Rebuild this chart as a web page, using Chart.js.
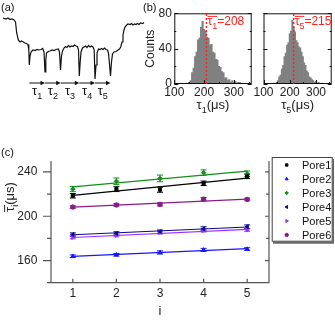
<!DOCTYPE html>
<html>
<head>
<meta charset="utf-8">
<script src="https://cdn.jsdelivr.net/npm/chart.js@4/dist/chart.umd.min.js"></script>
<style>
body { margin:0; background:#fff; width:335px; height:320px; position:relative; overflow:hidden; font-family:"Liberation Sans", Arial, sans-serif; }
canvas { position:absolute; }
.tag { position:absolute; font-size:11px; color:#111; }
</style>
</head>
<body>
<canvas id="ca" width="150" height="105" style="left:0;top:0"></canvas>
<canvas id="cb1" width="115" height="115" style="left:140px;top:0"></canvas>
<canvas id="cb2" width="83" height="115" style="left:252px;top:0"></canvas>
<canvas id="cc" width="335" height="180" style="left:0;top:140px"></canvas>
<div class="tag" style="left:1px;top:1px">(a)</div>
<div class="tag" style="left:143px;top:1px">(b)</div>
<div class="tag" style="left:1px;top:146px">(c)</div>
<script>
var FONT = '"Liberation Sans", Arial, sans-serif';
var NARROW = '"Liberation Sans Narrow", "Liberation Sans", Arial, sans-serif';
Chart.defaults.font.family = FONT;
Chart.defaults.color = '#222';
Chart.defaults.animation = false;

// (a) translocation trace, arbitrary units
var traceT = [3,6,8,10,12,14,15.5,16.7,18.3,20,21.5,23.3,25,26.5,28,28.8,29.3,30,31,33,35,37,39,41,42.7,44,45,45.8,46.5,48.3,50,52,54,56,58.3,59.5,60.5,61.5,62.5,64,65.5,67,68.5,70,71.5,73,74.5,76,77.5,78.5,79.3,80.2,81,82.5,84,85.5,87,88.5,90,91.5,93,94.2,95,96,97,98.5,100,101.5,103,104.5,106,107.5,108.5,110.5,111.5,112.5,114,116,118,119.5,120.7,122,123,124,125,126.7,128,130,131.5,133,134.5,136,137.5,139,140.5,142.7,144];
var traceI = [87,86,87,85.5,86,85,83,72,65,63,64,63,62,61.5,60.5,55,40,49,53,55,54.5,55.5,55,55.5,56.5,53,33,45,52,53.5,54,55,54.5,55.5,56,53,35,49,54,57,58.5,57.5,59.5,58,59,58.5,60,59,58.5,55,29,43,53,57,58,59,57.5,59.5,58,59,58,55,26,40,52,56,55.5,56.5,55.5,57,55.5,55,52,29,43,51,53,53.5,55,56,58,63,70,75,78,80,81,80.5,81.5,80,81,80.5,81.5,80.5,82,81.5,82.5];
var eventT = [29.3, 45, 60.7, 79.3, 95, 110.5];
var intervalNames = ['1', '2', '3', '4', '5'];

// (b) dwell time histograms, 5 us bins
var binCenters = [140,145,150,155,160,165,170,175,180,185,190,195,200,205,210,215,220,225,230,235,240,245,250,255,260,265,270,275,280,285,290,295,300,305,310,315,320,325,330];
var countsTau1 = [1,0,2,4,13,18,31,36,50,52,64,71,62,60,53,52,44,45,36,35,28,27,20,19,14,13,7,7,4,5,2,4,2,3,1,2,2,0,1];
var countsTau5 = [1,0,2,4,8,10,17,21,31,35,44,47,57,60,72,64,59,49,47,42,41,36,31,24,21,15,13,8,7,5,4,2,3,1,2,1,0,1,0];
var meanTau = [208, 215];
var histTicksX = [100, 200, 300];
var histTicksY = [0, 40, 80];

// (c) mean dwell time vs interval index
var intervalIdx = [1, 2, 3, 4, 5];
var poreNames = ['Pore1', 'Pore2', 'Pore3', 'Pore4', 'Pore5', 'Pore6'];
var tauPore1 = [218.5, 224.5, 224, 229.8, 236];
var tauPore2 = [163.9, 165.2, 167.3, 169.6, 170.4];
var tauPore3 = [224.5, 231.6, 234.2, 239.4, 238.4];
var tauPore4 = [183.5, 184.5, 186.1, 188.7, 190.6];
var tauPore5 = [180.9, 182.7, 185.3, 187.1, 187.7];
var tauPore6 = [208.3, 210.2, 210.7, 215.4, 215.2];
var errPore1 = [2, 2.2, 2.3, 2, 2];
var errPore2 = [1.2, 1.2, 1.4, 1.4, 1.2];
var errPore3 = [2.3, 3, 3, 2.5, 2.5];
var errPore4 = [1.5, 1.5, 1.5, 1.8, 1.6];
var errPore5 = [1.3, 1.3, 1.3, 1.3, 1.3];
var errPore6 = [1.2, 1.2, 1.4, 1.5, 1.2];
var fitPore1 = [218.8, 234.4];
var fitPore2 = [163.8, 170.8];
var fitPore3 = [226.5, 240.8];
var fitPore4 = [183.3, 190.3];
var fitPore5 = [180.8, 188.2];
var fitPore6 = [208.3, 215.4];
var cTicksX = [1, 2, 3, 4, 5];
var cTicksY = [160, 200, 240];

function drawTau(ctx, x, y, sub, tail, size, color, bar, align) {
    ctx.save();
    ctx.fillStyle = color; ctx.strokeStyle = color;
    ctx.textBaseline = 'alphabetic'; ctx.textAlign = 'left';
    var big = size + 'px ' + FONT, small = Math.round(size * 0.72) + 'px ' + FONT;
    ctx.font = big;
    var wT = ctx.measureText('\u03c4').width, wTail = ctx.measureText(tail).width;
    ctx.font = small;
    var wS = ctx.measureText(sub).width;
    var w = wT + wS + wTail;
    if (align === 'center') x -= w / 2;
    ctx.font = big; ctx.fillText('\u03c4', x, y);
    ctx.font = small; ctx.fillText(sub, x + wT, y + size * 0.3);
    ctx.font = big; ctx.fillText(tail, x + wT + wS, y);
    if (bar) {
        ctx.lineWidth = 1;
        ctx.beginPath(); ctx.moveTo(x, y - size * 0.72); ctx.lineTo(x + wT + wS, y - size * 0.72); ctx.stroke();
    }
    ctx.restore();
    return w;
}

function setTicks(list) {
    return function (scale) { scale.ticks = list.map(function (v) { return { value: v }; }); };
}

// ---------- (a)
var arrows = {
    id: 'arrows',
    afterDraw: function (chart) {
        var ctx = chart.ctx, xs = chart.scales.x, yA = 83;
        ctx.save();
        ctx.strokeStyle = '#111'; ctx.fillStyle = '#111'; ctx.lineWidth = 1;
        for (var i = 0; i < intervalNames.length; i++) {
            var x0 = xs.getPixelForValue(eventT[i]), x1 = xs.getPixelForValue(eventT[i + 1]);
            ctx.beginPath(); ctx.moveTo(x0, yA); ctx.lineTo(x1 - 3, yA); ctx.stroke();
            ctx.beginPath(); ctx.moveTo(x1, yA); ctx.lineTo(x1 - 4.5, yA - 2.2); ctx.lineTo(x1 - 4.5, yA + 2.2); ctx.closePath(); ctx.fill();
            drawTau(ctx, (x0 + x1) / 2, 95, intervalNames[i], '', 13, '#111', false, 'center');
        }
        ctx.restore();
    }
};

new Chart(document.getElementById('ca'), {
    type: 'line',
    data: { datasets: [{
        data: traceT.map(function (t, k) { return { x: t, y: traceI[k] }; }),
        borderColor: '#111', borderWidth: 1.2, pointRadius: 0, tension: 0
    }] },
    options: {
        responsive: false, animation: false,
        layout: { padding: 0 },
        plugins: { legend: { display: false }, tooltip: { enabled: false } },
        scales: {
            x: { type: 'linear', display: false, min: 0, max: 150 },
            y: { display: false, min: 0, max: 105 }
        }
    },
    plugins: [arrows]
});

// ---------- (b)
function makeHist(id, counts, mean, sub, showY, padLeft) {
    var frame = {
        id: 'frame' + sub,
        afterDraw: function (chart) {
            var ctx = chart.ctx, a = chart.chartArea, xs = chart.scales.x, ys = chart.scales.y;
            ctx.save();
            ctx.strokeStyle = '#111'; ctx.lineWidth = 1;
            ctx.strokeRect(a.left + 0.5, a.top + 0.5, a.right - a.left - 1, a.bottom - a.top - 1);
            ctx.beginPath();
            histTicksY.forEach(function (v) {
                var p = Math.round(ys.getPixelForValue(v)) + 0.5;
                ctx.moveTo(a.left, p); ctx.lineTo(a.left + 4, p);
                ctx.moveTo(a.right, p); ctx.lineTo(a.right - 4, p);
                var m = ys.getPixelForValue(v + 20);
                if (v + 20 < 80) { m = Math.round(m) + 0.5; ctx.moveTo(a.left, m); ctx.lineTo(a.left + 2, m); ctx.moveTo(a.right, m); ctx.lineTo(a.right - 2, m); }
            });
            histTicksX.forEach(function (v) {
                var p = Math.round(xs.getPixelForValue(v)) + 0.5;
                ctx.moveTo(p, a.bottom); ctx.lineTo(p, a.bottom - 4);
                var m = Math.round(xs.getPixelForValue(v + 50)) + 0.5;
                ctx.moveTo(m, a.bottom); ctx.lineTo(m, a.bottom - 2);
            });
            ctx.stroke();
            // mean line
            var mx = xs.getPixelForValue(mean);
            ctx.strokeStyle = '#ff2020'; ctx.lineWidth = 1.5; ctx.setLineDash([2, 2]);
            ctx.beginPath(); ctx.moveTo(mx, a.bottom); ctx.lineTo(mx, a.top); ctx.stroke();
            ctx.setLineDash([]);
            drawTau(ctx, mx + 1, 25, sub, '=' + mean, 12, '#ff2020', true, 'left');
            // axis titles
            drawTau(ctx, (a.left + a.right) / 2, 109, sub, '(\u03bcs)', 13, '#222', false, 'center');
            if (showY) {
                ctx.translate(a.left - 24, (a.top + a.bottom) / 2);
                ctx.rotate(-Math.PI / 2);
                ctx.fillStyle = '#222'; ctx.font = '12px ' + FONT;
                ctx.textAlign = 'center'; ctx.textBaseline = 'middle';
                ctx.fillText('Counts', 0, 0);
            }
            ctx.restore();
        }
    };
    return new Chart(document.getElementById(id), {
        type: 'bar',
        data: { datasets: [{
            data: binCenters.map(function (b, k) { return { x: b, y: counts[k] }; }),
            backgroundColor: '#808080', borderWidth: 0,
            barPercentage: 1, categoryPercentage: 1
        }] },
        options: {
            responsive: false, animation: false,
            layout: { padding: { top: 13.3, right: 3.3, left: 0, bottom: 0 } },
            plugins: { legend: { display: false }, tooltip: { enabled: false } },
            scales: {
                x: {
                    type: 'linear', min: 100, max: 360, offset: false,
                    grid: { display: false, drawTicks: false }, border: { display: false },
                    afterBuildTicks: setTicks(histTicksX),
                    afterFit: function (s) { s.height = 31; },
                    ticks: { padding: 1.5, font: { size: 12, family: NARROW }, color: '#222', maxRotation: 0 }
                },
                y: {
                    min: 0, max: 80,
                    grid: { display: false, drawTicks: false }, border: { display: false },
                    afterBuildTicks: setTicks(histTicksY),
                    afterFit: function (s) { s.width = padLeft; },
                    ticks: { display: showY, padding: 2.5, font: { size: 12, family: NARROW }, color: '#222' }
                }
            }
        },
        plugins: [frame]
    });
}
makeHist('cb1', countsTau1, meanTau[0], '1', true, 34.3);
makeHist('cb2', countsTau5, meanTau[1], '5', false, 4.7);

// ---------- (c)
var poreTau = [tauPore1, tauPore2, tauPore3, tauPore4, tauPore5, tauPore6];
var poreErr = [errPore1, errPore2, errPore3, errPore4, errPore5, errPore6];
var poreFit = [fitPore1, fitPore2, fitPore3, fitPore4, fitPore5, fitPore6];
var poreColor = ['#000000', '#1515ff', '#10901a', '#0a0a8a', '#9a30ff', '#8a1a8a'];
var poreStyle = ['rect', 'triangle', 'rectRot', 'triangle', 'triangle', 'circle'];
var poreRot = [0, 0, 0, -90, 90, 0];

var cDatasets = [];
poreNames.forEach(function (name, p) {
    cDatasets.push({
        label: name + ' fit',
        data: [{ x: intervalIdx[0], y: poreFit[p][0] }, { x: intervalIdx[intervalIdx.length - 1], y: poreFit[p][1] }],
        borderColor: poreColor[p], borderWidth: 1.2, pointRadius: 0, showLine: true, order: 2
    });
});
poreNames.forEach(function (name, p) {
    cDatasets.push({
        label: name,
        data: intervalIdx.map(function (i, k) { return { x: i, y: poreTau[p][k] }; }),
        errors: poreErr[p],
        borderColor: poreColor[p], backgroundColor: poreColor[p],
        pointStyle: poreStyle[p], rotation: poreRot[p], pointRadius: 2.2,
        showLine: false, order: 1
    });
});

var errorBars = {
    id: 'errorBars',
    beforeDatasetsDraw: function (chart) {
        var ctx = chart.ctx, ys = chart.scales.y;
        ctx.save(); ctx.lineWidth = 1;
        chart.data.datasets.forEach(function (ds, i) {
            if (!ds.errors) return;
            var meta = chart.getDatasetMeta(i);
            ctx.strokeStyle = ds.borderColor;
            ctx.beginPath();
            meta.data.forEach(function (pt, k) {
                var v = ds.data[k].y, e = ds.errors[k];
                var yt = ys.getPixelForValue(v + e), yb = ys.getPixelForValue(v - e);
                ctx.moveTo(pt.x, yt); ctx.lineTo(pt.x, yb);
                ctx.moveTo(pt.x - 3, yt); ctx.lineTo(pt.x + 3, yt);
                ctx.moveTo(pt.x - 3, yb); ctx.lineTo(pt.x + 3, yb);
            });
            ctx.stroke();
        });
        ctx.restore();
    }
};

var frameC = {
    id: 'frameC',
    afterDraw: function (chart) {
        var ctx = chart.ctx, a = chart.chartArea, xs = chart.scales.x, ys = chart.scales.y;
        ctx.save();
        ctx.strokeStyle = '#555'; ctx.lineWidth = 1.2;
        ctx.beginPath();
        ctx.moveTo(a.left, a.top); ctx.lineTo(a.left, a.bottom); ctx.lineTo(a.right, a.bottom); ctx.lineTo(a.right, a.top);
        cTicksY.forEach(function (v) {
            var p = ys.getPixelForValue(v);
            ctx.moveTo(a.left - 8, p); ctx.lineTo(a.left, p);
            ctx.moveTo(a.right - 4, p); ctx.lineTo(a.right, p);
            var m = ys.getPixelForValue(v + 20);
            if (m > a.top) { ctx.moveTo(a.left - 4, m); ctx.lineTo(a.left, m); ctx.moveTo(a.right - 3, m); ctx.lineTo(a.right, m); }
        });
        var m0 = ys.getPixelForValue(cTicksY[0] - 20);
        ctx.moveTo(a.left - 4, m0); ctx.lineTo(a.left, m0);
        cTicksX.forEach(function (v) {
            var p = xs.getPixelForValue(v);
            ctx.moveTo(p, a.bottom); ctx.lineTo(p, a.bottom - 4);
        });
        ctx.stroke();
        // axis titles
        ctx.fillStyle = '#222'; ctx.font = '13px ' + FONT; ctx.textAlign = 'center'; ctx.textBaseline = 'middle';
        ctx.fillText('i', (a.left + a.right) / 2, 171);
        ctx.translate(14, 57);
        ctx.rotate(-Math.PI / 2);
        drawTau(ctx, 0, 0, 'i', '(\u03bcs)', 13, '#222', true, 'center');
        ctx.restore();
        // legend
        ctx.save();
        ctx.fillStyle = '#666';
        ctx.fillRect(273, 19, 61, 84.7);
        ctx.fillStyle = '#fff';
        ctx.fillRect(271.7, 17, 61, 84.7);
        ctx.strokeStyle = '#444'; ctx.lineWidth = 1;
        ctx.strokeRect(272.2, 17.5, 60, 83.7);
        ctx.font = '11px ' + FONT; ctx.textAlign = 'left'; ctx.textBaseline = 'middle';
        poreNames.forEach(function (name, p) {
            var ly = 25 + p * 14;
            ctx.fillStyle = poreColor[p]; ctx.strokeStyle = poreColor[p];
            Chart.helpers.drawPoint(ctx, { pointStyle: poreStyle[p], rotation: poreRot[p], radius: 1.7, borderWidth: 1 }, 286.7, ly);
            ctx.fillStyle = '#111';
            ctx.fillText(name, 302, ly + 0.5);
        });
        ctx.restore();
    }
};

new Chart(document.getElementById('cc'), {
    type: 'scatter',
    data: { datasets: cDatasets },
    options: {
        responsive: false, animation: false,
        layout: { padding: { top: 2, right: 66, left: 0, bottom: 0 } },
        plugins: { legend: { display: false }, tooltip: { enabled: false } },
        scales: {
            x: {
                type: 'linear', min: 0.5, max: 5.5,
                grid: { display: false, drawTicks: false }, border: { display: false },
                afterBuildTicks: setTicks(cTicksX),
                afterFit: function (s) { s.height = 37.3; },
                ticks: { padding: 4, font: { size: 12 }, color: '#222' }
            },
            y: {
                min: 140, max: 250,
                grid: { display: false, drawTicks: false }, border: { display: false },
                afterBuildTicks: setTicks(cTicksY),
                afterFit: function (s) { s.width = 51; },
                ticks: { padding: 13.7, font: { size: 12, family: NARROW }, color: '#222' }
            }
        }
    },
    plugins: [errorBars, frameC]
});
</script>
</body>
</html>
